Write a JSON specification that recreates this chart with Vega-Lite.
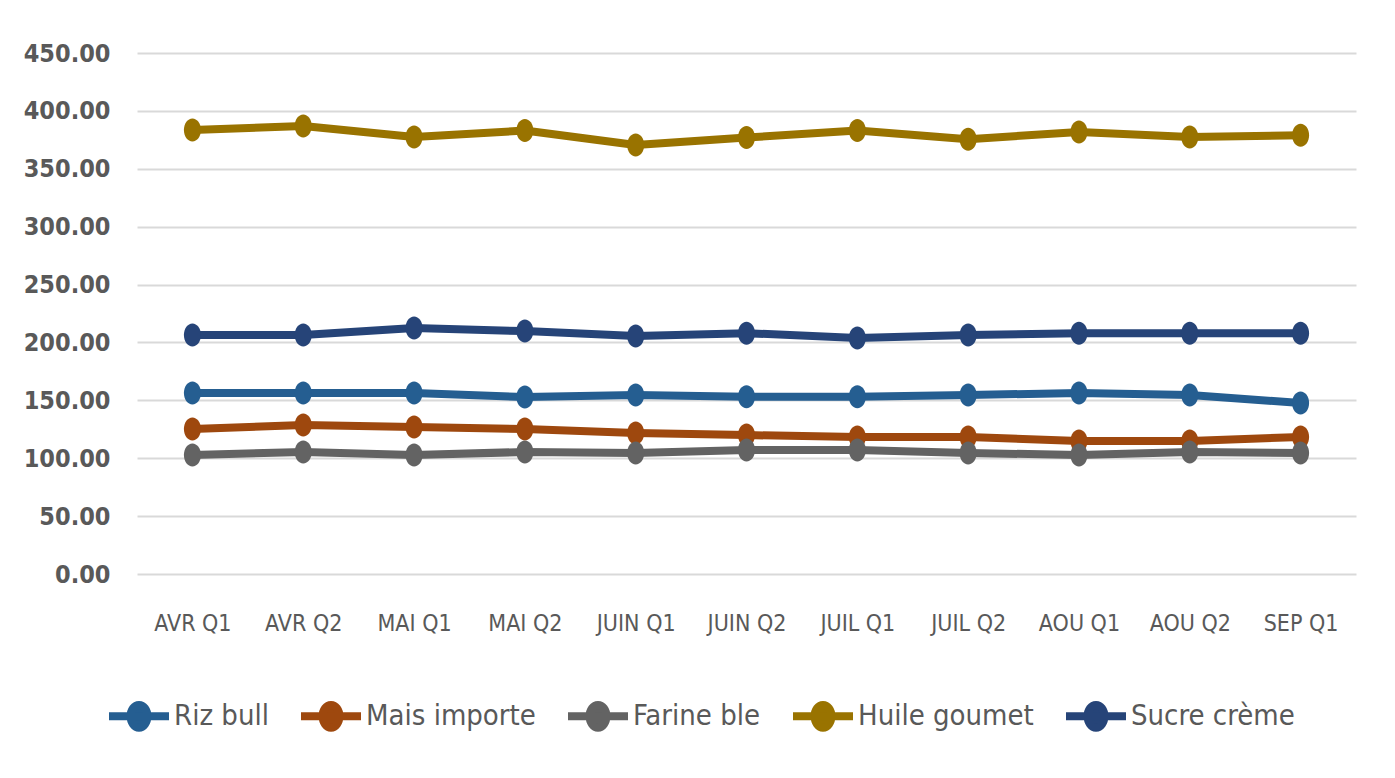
{
  "$schema": "https://vega.github.io/schema/vega-lite/v6.json",
  "width": 1219,
  "height": 521,
  "autosize": {"type": "none"},
  "padding": {"left": 137, "top": 53, "right": 39, "bottom": 204},
  "background": "white",
  "config": {
    "view": {"stroke": null},
    "font": "DejaVu Sans Condensed, Liberation Sans"
  },
  "data": {
    "values": [
      {"periode": "AVR Q1", "produit": "Riz bull", "prix": 156.3},
      {"periode": "AVR Q2", "produit": "Riz bull", "prix": 156.3},
      {"periode": "MAI Q1", "produit": "Riz bull", "prix": 156.3},
      {"periode": "MAI Q2", "produit": "Riz bull", "prix": 152.8},
      {"periode": "JUIN Q1", "produit": "Riz bull", "prix": 154.6},
      {"periode": "JUIN Q2", "produit": "Riz bull", "prix": 153.0},
      {"periode": "JUIL Q1", "produit": "Riz bull", "prix": 153.0},
      {"periode": "JUIL Q2", "produit": "Riz bull", "prix": 154.6},
      {"periode": "AOU Q1", "produit": "Riz bull", "prix": 156.3},
      {"periode": "AOU Q2", "produit": "Riz bull", "prix": 154.6},
      {"periode": "SEP Q1", "produit": "Riz bull", "prix": 147.7},
      {"periode": "AVR Q1", "produit": "Mais importe", "prix": 125.2},
      {"periode": "AVR Q2", "produit": "Mais importe", "prix": 128.7},
      {"periode": "MAI Q1", "produit": "Mais importe", "prix": 127.0},
      {"periode": "MAI Q2", "produit": "Mais importe", "prix": 125.2},
      {"periode": "JUIN Q1", "produit": "Mais importe", "prix": 121.8},
      {"periode": "JUIN Q2", "produit": "Mais importe", "prix": 120.0},
      {"periode": "JUIL Q1", "produit": "Mais importe", "prix": 118.3},
      {"periode": "JUIL Q2", "produit": "Mais importe", "prix": 118.3},
      {"periode": "AOU Q1", "produit": "Mais importe", "prix": 114.9},
      {"periode": "AOU Q2", "produit": "Mais importe", "prix": 114.9},
      {"periode": "SEP Q1", "produit": "Mais importe", "prix": 118.3},
      {"periode": "AVR Q1", "produit": "Farine ble", "prix": 102.8},
      {"periode": "AVR Q2", "produit": "Farine ble", "prix": 105.4},
      {"periode": "MAI Q1", "produit": "Farine ble", "prix": 102.8},
      {"periode": "MAI Q2", "produit": "Farine ble", "prix": 105.4},
      {"periode": "JUIN Q1", "produit": "Farine ble", "prix": 104.5},
      {"periode": "JUIN Q2", "produit": "Farine ble", "prix": 107.0},
      {"periode": "JUIL Q1", "produit": "Farine ble", "prix": 107.0},
      {"periode": "JUIL Q2", "produit": "Farine ble", "prix": 104.5},
      {"periode": "AOU Q1", "produit": "Farine ble", "prix": 102.8},
      {"periode": "AOU Q2", "produit": "Farine ble", "prix": 105.4},
      {"periode": "SEP Q1", "produit": "Farine ble", "prix": 104.5},
      {"periode": "AVR Q1", "produit": "Huile goumet", "prix": 383.4},
      {"periode": "AVR Q2", "produit": "Huile goumet", "prix": 386.9},
      {"periode": "MAI Q1", "produit": "Huile goumet", "prix": 377.4},
      {"periode": "MAI Q2", "produit": "Huile goumet", "prix": 383.0},
      {"periode": "JUIN Q1", "produit": "Huile goumet", "prix": 370.5},
      {"periode": "JUIN Q2", "produit": "Huile goumet", "prix": 377.0},
      {"periode": "JUIL Q1", "produit": "Huile goumet", "prix": 383.0},
      {"periode": "JUIL Q2", "produit": "Huile goumet", "prix": 375.6},
      {"periode": "AOU Q1", "produit": "Huile goumet", "prix": 381.7},
      {"periode": "AOU Q2", "produit": "Huile goumet", "prix": 377.4},
      {"periode": "SEP Q1", "produit": "Huile goumet", "prix": 379.0},
      {"periode": "AVR Q1", "produit": "Sucre crème", "prix": 206.4},
      {"periode": "AVR Q2", "produit": "Sucre crème", "prix": 206.4},
      {"periode": "MAI Q1", "produit": "Sucre crème", "prix": 212.4},
      {"periode": "MAI Q2", "produit": "Sucre crème", "prix": 209.8},
      {"periode": "JUIN Q1", "produit": "Sucre crème", "prix": 205.5},
      {"periode": "JUIN Q2", "produit": "Sucre crème", "prix": 208.0},
      {"periode": "JUIL Q1", "produit": "Sucre crème", "prix": 203.8},
      {"periode": "JUIL Q2", "produit": "Sucre crème", "prix": 206.4},
      {"periode": "AOU Q1", "produit": "Sucre crème", "prix": 208.0},
      {"periode": "AOU Q2", "produit": "Sucre crème", "prix": 208.0},
      {"periode": "SEP Q1", "produit": "Sucre crème", "prix": 208.0}
    ]
  },
  "encoding": {
    "x": {
      "field": "periode",
      "type": "ordinal",
      "sort": ["AVR Q1", "AVR Q2", "MAI Q1", "MAI Q2", "JUIN Q1", "JUIN Q2", "JUIL Q1", "JUIL Q2", "AOU Q1", "AOU Q2", "SEP Q1"],
      "scale": {"type": "point", "padding": 0.5},
      "axis": {
        "title": null,
        "domain": false,
        "ticks": false,
        "labelAngle": 0,
        "labelFont": "DejaVu Sans Condensed, Liberation Sans",
        "labelFontSize": 23,
        "labelColor": "#595959",
        "labelPadding": 38
      }
    },
    "y": {
      "field": "prix",
      "type": "quantitative",
      "scale": {"domain": [0, 450], "nice": false},
      "axis": {
        "title": null,
        "domain": false,
        "ticks": false,
        "values": [0, 50, 100, 150, 200, 250, 300, 350, 400, 450],
        "format": ".2f",
        "labelFont": "DejaVu Sans Condensed, Liberation Sans",
        "labelFontSize": 25,
        "labelFontWeight": "bold",
        "labelColor": "#595959",
        "labelPadding": 27,
        "gridColor": "#D9D9D9",
        "gridWidth": 2
      }
    },
    "color": {
      "field": "produit",
      "type": "nominal",
      "sort": ["Riz bull", "Mais importe", "Farine ble", "Huile goumet", "Sucre crème"],
      "scale": {
        "domain": ["Riz bull", "Mais importe", "Farine ble", "Huile goumet", "Sucre crème"],
        "range": ["#255E91", "#9E480E", "#636363", "#997300", "#264478"]
      },
      "legend": {
        "title": null,
        "orient": "none",
        "direction": "horizontal",
        "legendX": -32,
        "legendY": 629,
        "padding": 0,
        "columnPadding": 16,
        "labelOffset": 1,
        "labelFont": "DejaVu Sans Condensed, Liberation Sans",
        "labelFontSize": 29,
        "labelColor": "#595959",
        "labelLimit": 400,
        "symbolType": "M-1,0L1,0M-0.28,0A0.28,0.38,0,1,1,0.28,0A0.28,0.38,0,1,1,-0.28,0Z",
        "symbolSize": 3600,
        "symbolStrokeWidth": 8,
        "encode": {
          "symbols": {
            "update": {
              "fill": {"scale": "color", "field": "value"},
              "stroke": {"scale": "color", "field": "value"},
              "strokeWidth": {"value": 8},
              "opacity": {"value": 1},
              "fillOpacity": {"value": 1}
            }
          }
        }
      }
    },
    "order": {"field": "periode", "type": "ordinal"}
  },
  "layer": [
    {
      "mark": {"type": "line", "strokeWidth": 8, "strokeJoin": "round"},
      "encoding": {
        "order": {"value": null}
      }
    },
    {
      "mark": {
        "type": "point",
        "filled": true,
        "opacity": 1,
        "size": 529,
        "shape": "M-0.74,0A0.74,1,0,1,1,0.74,0A0.74,1,0,1,1,-0.74,0Z"
      }
    }
  ]
}
